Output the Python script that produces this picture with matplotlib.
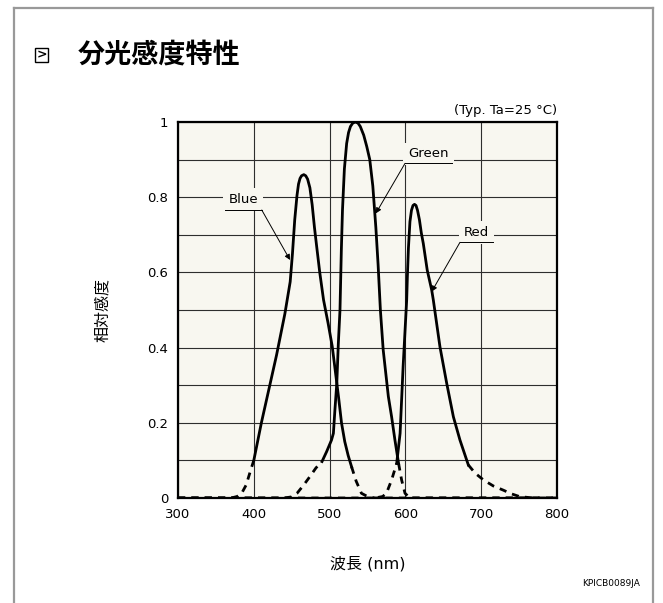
import numpy as np
import matplotlib
matplotlib.use("Agg")
import matplotlib.pyplot as plt
from matplotlib.lines import Line2D
from matplotlib.patches import Rectangle

plt.rcParams['font.family'] = ['DejaVu Sans', 'Noto Sans CJK JP']

# spectral response
blue_nm = [300, 370, 378, 384, 390, 396, 400, 410, 420, 430, 441, 448, 451, 454, 457, 459,
           461, 463, 466, 468.5, 471, 474, 477, 480, 483, 487, 492, 498, 503.5, 508, 512,
           515.7, 520, 524.5, 529, 535, 542, 550, 560, 800]
blue_val = [0, 0, 0.004, 0.0125, 0.035, 0.075, 0.1, 0.2, 0.29, 0.38, 0.49, 0.575, 0.65,
            0.74, 0.805, 0.835, 0.85, 0.857, 0.86, 0.857, 0.848, 0.825, 0.78, 0.72, 0.668,
            0.6, 0.527, 0.465, 0.403, 0.33, 0.265, 0.2, 0.15, 0.113, 0.083, 0.045, 0.0125,
            0.004, 0, 0]
blue_solid = (400, 529)

green_nm = [300, 440, 450, 457, 466, 474, 482, 490, 496, 502.5, 505, 507, 509.5, 511.5,
            513.7, 515.5, 517, 519.5, 522.5, 525, 527.5, 530.5, 534, 537.5, 540.5, 545,
            549, 553, 557, 561, 564, 567, 570.7, 577.5, 581.8, 586.2, 591, 595, 599.5,
            606, 800]
green_val = [0, 0, 0.003, 0.0125, 0.035, 0.057, 0.08, 0.097, 0.123, 0.154, 0.172, 0.234,
             0.305, 0.41, 0.5, 0.66, 0.766, 0.875, 0.943, 0.972, 0.988, 0.997, 1.0, 0.997,
             0.988, 0.965, 0.935, 0.9, 0.83, 0.72, 0.62, 0.5, 0.394, 0.27, 0.216, 0.154,
             0.092, 0.048, 0.0125, 0, 0]
green_solid = (490, 591)

red_nm = [300, 560, 570, 575, 581.8, 588.5, 593, 597, 601.7, 602.6, 604, 606, 608,
          610, 612, 614, 616, 618.5, 621, 623.6, 628.8, 634.7, 636.8, 645.6, 654.5, 663.3,
          672, 683, 692, 703, 716, 729, 740, 751, 770, 800]
red_val = [0, 0, 0.004, 0.0125, 0.048, 0.092, 0.172, 0.35, 0.527, 0.589, 0.665, 0.735,
           0.765, 0.778, 0.781, 0.778, 0.765, 0.74, 0.705, 0.677, 0.606, 0.553, 0.527,
           0.402, 0.305, 0.216, 0.154, 0.088, 0.066, 0.048, 0.032, 0.021, 0.011, 0.0035,
           0, 0]
red_solid = (588.5, 683)

x_ticks = [300, 400, 500, 600, 700, 800]
y_ticks = [0, 0.2, 0.4, 0.6, 0.8, 1]
y_tick_labels = ['0', '0.2', '0.4', '0.6', '0.8', '1']

bg = '#f8f7f0'

fig = plt.figure(figsize=(6.63, 6.03), dpi=100)
ax = fig.add_axes([178 / 663, 1 - 498 / 603, 379 / 663, 376 / 603])
ax.set_facecolor(bg)

ax.set_xlim(300, 800)
ax.set_ylim(0, 1)
ax.set_xticks(x_ticks)
ax.set_yticks(y_ticks)
ax.set_yticklabels(y_tick_labels)
ax.set_yticks(np.arange(0.1, 1.0, 0.2), minor=True)
ax.tick_params(which='both', length=0, labelsize=9.5, pad=7)
ax.grid(True, which='both', color='#2e2e2e', lw=0.8)
ax.set_axisbelow(True)
for s in ax.spines.values():
    s.set_linewidth(1.6)
    s.set_zorder(5)

# draw each curve: solid inside its range, dashed in the tails
for nm, val, (lo, hi) in [(blue_nm, blue_val, blue_solid),
                          (green_nm, green_val, green_solid),
                          (red_nm, red_val, red_solid)]:
    nm = np.array(nm, dtype=float)
    val = np.array(val, dtype=float)
    mid = (nm >= lo) & (nm <= hi)
    left = nm <= lo
    right = nm >= hi
    ax.plot(nm[mid], val[mid], color='black', lw=2.0, solid_joinstyle='round', zorder=3)
    ax.plot(nm[left], val[left], color='black', lw=2.0, ls=(0, (2.6, 2.2)), zorder=3)
    ax.plot(nm[right], val[right], color='black', lw=2.0, ls=(0, (2.6, 2.2)), zorder=3)

# curve labels with underline and leader arrow
labels = [
    ('Blue', 386, 0.793, (362, 410.5), 0.766, 410.5, (447.8, 0.633)),
    ('Green', 630.5, 0.915, (599.5, 661), 0.89, 599.5, (561, 0.757)),
    ('Red', 694, 0.706, (672, 716), 0.68, 672, (634.7, 0.549)),
]
for txt, tx, ty, (u0, u1), uy, sx, tip in labels:
    ax.text(tx, ty, txt, ha='center', va='center', fontsize=9.5, zorder=4,
            bbox=dict(facecolor=bg, edgecolor='none', pad=3.5))
    ax.plot([u0, u1], [uy, uy], color='black', lw=0.7, zorder=4)
    ax.annotate('', xy=tip, xytext=(sx, uy), zorder=4,
                arrowprops=dict(arrowstyle='-|>', lw=0.7, color='black',
                                mutation_scale=8, shrinkA=0, shrinkB=0))

ax.text(1.0, 1.012, '(Typ. Ta=25 °C)', transform=ax.transAxes, ha='right', va='bottom',
        fontsize=9.5)
ax.set_ylabel('相対感度', fontsize=11.5)
ax.yaxis.set_label_coords(-0.18, 0.5)
ax.set_xlabel('波長 (nm)', fontsize=11.5)
ax.xaxis.set_label_coords(0.5, -0.155)

# page frame and heading
for xs, ys in [([14 / 663, 14 / 663], [0, 1 - 8 / 603]),
               ([14 / 663, 653 / 663], [1 - 8 / 603, 1 - 8 / 603]),
               ([653 / 663, 653 / 663], [1 - 8 / 603, 0])]:
    fig.add_artist(Line2D(xs, ys, color='#999999', lw=1.6))
fig.add_artist(Rectangle((35 / 663, 1 - 62 / 603), 13 / 663, 14 / 603,
                         fill=False, edgecolor='black', lw=1.0))
fig.text(41.5 / 663, 1 - 55 / 603, '>', ha='center', va='center', fontsize=9,
         fontweight='bold')
fig.text(78 / 663, 1 - 55 / 603, '分光感度特性', ha='left', va='center', fontsize=19.5,
         fontweight='bold', family=['Noto Sans CJK JP', 'DejaVu Sans'])
fig.text(640 / 663, 1 - 583 / 603, 'KPICB0089JA', ha='right', va='center', fontsize=6.5)

fig.savefig('out.png', dpi=100, facecolor='white')
